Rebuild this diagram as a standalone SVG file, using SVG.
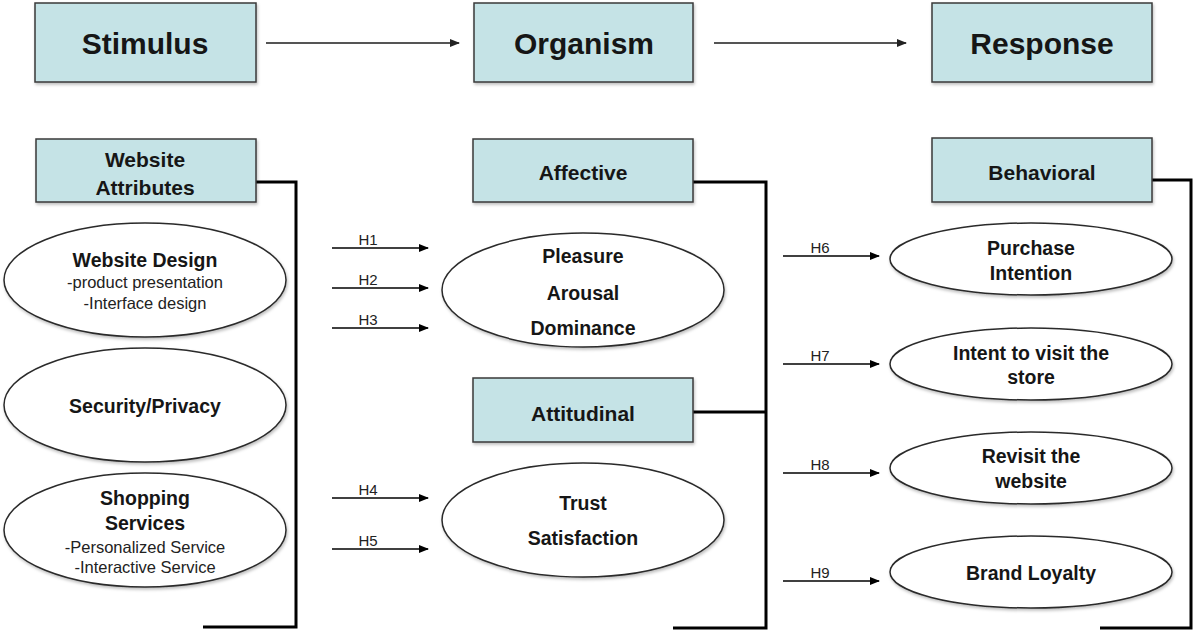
<svg xmlns="http://www.w3.org/2000/svg" width="1194" height="635" viewBox="0 0 1194 635">
<style>
.box{fill:#c5e3e6;stroke:#3a3a3a;stroke-width:1.5}
.ell{fill:#ffffff;stroke:#2a2a2a;stroke-width:1.5}
.hd{font-family:"Liberation Sans",Arial,sans-serif;font-weight:bold;font-size:30px;fill:#161616;text-anchor:middle}
.sh{font-family:"Liberation Sans",Arial,sans-serif;font-weight:bold;font-size:21px;fill:#161616;text-anchor:middle}
.b{font-family:"Liberation Sans",Arial,sans-serif;font-weight:bold;font-size:19.5px;fill:#161616;text-anchor:middle}
.s{font-family:"Liberation Sans",Arial,sans-serif;font-size:16.5px;fill:#222;text-anchor:middle}
.h{font-family:"Liberation Sans",Arial,sans-serif;font-size:15px;fill:#222;text-anchor:middle}
.br{fill:none;stroke:#000;stroke-width:3}
.ha{stroke:#000;stroke-width:1.4;marker-end:url(#ah)}
.ta{stroke:#555;stroke-width:2;marker-end:url(#ah2)}
</style>
<defs>
<marker id="ah" markerWidth="10" markerHeight="10" refX="9" refY="5" orient="auto" markerUnits="userSpaceOnUse"><path d="M0,1 L10,5 L0,9 Z" fill="#000"/></marker>
<marker id="ah2" markerWidth="10" markerHeight="10" refX="9" refY="5" orient="auto" markerUnits="userSpaceOnUse"><path d="M0,1 L10,5 L0,9 Z" fill="#222"/></marker>
<filter id="sd" x="-10%" y="-10%" width="120%" height="130%"><feDropShadow dx="1" dy="2" stdDeviation="1.5" flood-color="#000" flood-opacity="0.25"/></filter>
</defs>
<rect width="1194" height="635" fill="#ffffff"/>

<g id="connectors">
<line class="ta" x1="266" y1="43" x2="459" y2="43"/>
<line class="ta" x1="714" y1="43" x2="906" y2="43"/>
<polyline class="br" points="256,182 296,182 296,627 203,627"/>
<polyline class="br" points="693,182 766,182 766,628 673,628"/>
<line class="br" x1="693" y1="412" x2="766" y2="412"/>
<polyline class="br" points="1152,180 1191,180 1191,628 1100,628"/>
<line class="ha" x1="332" y1="248" x2="428" y2="248"/>
<line class="ha" x1="332" y1="288" x2="428" y2="288"/>
<line class="ha" x1="332" y1="328" x2="428" y2="328"/>
<line class="ha" x1="332" y1="498" x2="428" y2="498"/>
<line class="ha" x1="332" y1="549" x2="428" y2="549"/>
<line class="ha" x1="783" y1="256" x2="879" y2="256"/>
<line class="ha" x1="783" y1="364" x2="879" y2="364"/>
<line class="ha" x1="783" y1="473" x2="879" y2="473"/>
<line class="ha" x1="783" y1="581" x2="879" y2="581"/>
<text class="h" x="368" y="245">H1</text>
<text class="h" x="368" y="285">H2</text>
<text class="h" x="368" y="325">H3</text>
<text class="h" x="368" y="495">H4</text>
<text class="h" x="368" y="546">H5</text>
<text class="h" x="820" y="253">H6</text>
<text class="h" x="820" y="361">H7</text>
<text class="h" x="820" y="470">H8</text>
<text class="h" x="820" y="578">H9</text>
</g>

<g id="stimulus"><rect class="box" filter="url(#sd)" x="35" y="3" width="221" height="79"/><text class="hd" x="145" y="54">Stimulus</text></g>
<g id="organism"><rect class="box" filter="url(#sd)" x="474" y="3" width="219" height="79"/><text class="hd" x="584" y="54">Organism</text></g>
<g id="response"><rect class="box" filter="url(#sd)" x="932" y="3" width="220" height="79"/><text class="hd" x="1042" y="54">Response</text></g>

<g id="website-attributes"><rect class="box" filter="url(#sd)" x="36" y="139" width="220" height="63"/><text class="sh" x="145" y="167">Website</text><text class="sh" x="145" y="195">Attributes</text></g>
<g id="affective"><rect class="box" filter="url(#sd)" x="473" y="139" width="220" height="63"/><text class="sh" x="583" y="180">Affective</text></g>
<g id="attitudinal"><rect class="box" filter="url(#sd)" x="473" y="378" width="220" height="64"/><text class="sh" x="583" y="421">Attitudinal</text></g>
<g id="behavioral"><rect class="box" filter="url(#sd)" x="932" y="138" width="220" height="64"/><text class="sh" x="1042" y="180">Behavioral</text></g>

<g id="website-design"><ellipse class="ell" filter="url(#sd)" cx="145" cy="280" rx="141" ry="57"/><text class="b" x="145" y="267">Website Design</text><text class="s" x="145" y="288">-product presentation</text><text class="s" x="145" y="309">-Interface design</text></g>
<g id="security-privacy"><ellipse class="ell" filter="url(#sd)" cx="145" cy="405" rx="141" ry="57"/><text class="b" x="145" y="413">Security/Privacy</text></g>
<g id="shopping-services"><ellipse class="ell" filter="url(#sd)" cx="145" cy="530" rx="141" ry="57"/><text class="b" x="145" y="505">Shopping</text><text class="b" x="145" y="530">Services</text><text class="s" x="145" y="553">-Personalized Service</text><text class="s" x="145" y="573">-Interactive Service</text></g>

<g id="pad"><ellipse class="ell" filter="url(#sd)" cx="583" cy="290" rx="141" ry="57"/><text class="b" x="583" y="263">Pleasure</text><text class="b" x="583" y="300">Arousal</text><text class="b" x="583" y="335">Dominance</text></g>
<g id="trust-satisfaction"><ellipse class="ell" filter="url(#sd)" cx="583" cy="520" rx="141" ry="57"/><text class="b" x="583" y="510">Trust</text><text class="b" x="583" y="545">Satisfaction</text></g>

<g id="purchase-intention"><ellipse class="ell" filter="url(#sd)" cx="1031" cy="259" rx="141" ry="36"/><text class="b" x="1031" y="255">Purchase</text><text class="b" x="1031" y="280">Intention</text></g>
<g id="intent-visit-store"><ellipse class="ell" filter="url(#sd)" cx="1031" cy="364" rx="141" ry="36"/><text class="b" x="1031" y="360">Intent to visit the</text><text class="b" x="1031" y="384">store</text></g>
<g id="revisit-website"><ellipse class="ell" filter="url(#sd)" cx="1031" cy="468" rx="141" ry="36"/><text class="b" x="1031" y="463">Revisit the</text><text class="b" x="1031" y="488">website</text></g>
<g id="brand-loyalty"><ellipse class="ell" filter="url(#sd)" cx="1031" cy="572" rx="141" ry="36"/><text class="b" x="1031" y="580">Brand Loyalty</text></g>
</svg>
